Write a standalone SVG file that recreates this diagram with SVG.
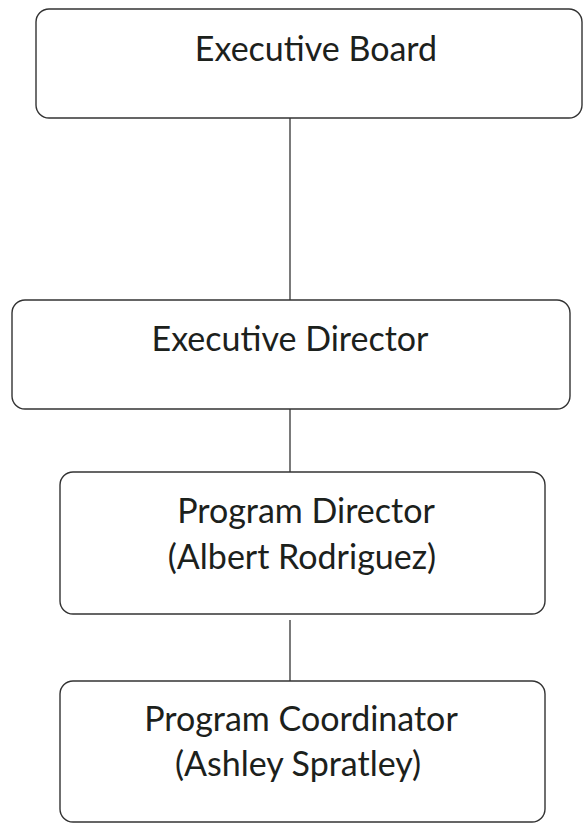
<svg xmlns="http://www.w3.org/2000/svg" width="584" height="824" viewBox="0 0 584 824">
  <style>
    .box { fill: #ffffff; stroke: #333333; stroke-width: 1.4; }
    .link { stroke: #333333; stroke-width: 1.3; fill: none; }
    .label { font-family: Lato, "Open Sans", "Liberation Sans", sans-serif; font-size: 34px; fill: #1c211c; text-anchor: middle; }
  </style>
  <rect width="584" height="824" fill="#ffffff"/>

  <!-- reporting lines -->
  <g id="connectors">
    <line class="link" x1="290" y1="118" x2="290" y2="300"/>
    <line class="link" x1="290" y1="409" x2="290" y2="472"/>
    <line class="link" x1="290" y1="620" x2="290" y2="681"/>
  </g>

  <g id="executive-board">
    <rect class="box" x="36" y="9" width="546" height="109" rx="13"/>
    <text class="label" x="316" y="61">Executive Board</text>
  </g>

  <g id="executive-director">
    <rect class="box" x="12" y="300" width="558" height="109" rx="13"/>
    <text class="label" x="290" y="351">Executive Director</text>
  </g>

  <g id="program-director">
    <rect class="box" x="60" y="472" width="485" height="142" rx="13"/>
    <text class="label" x="306" y="523">Program Director</text>
    <text class="label" x="302" y="569">(Albert Rodriguez)</text>
  </g>

  <g id="program-coordinator">
    <rect class="box" x="60" y="681" width="485" height="141" rx="13"/>
    <text class="label" x="301" y="731">Program Coordinator</text>
    <text class="label" x="298" y="776">(Ashley Spratley)</text>
  </g>
</svg>
